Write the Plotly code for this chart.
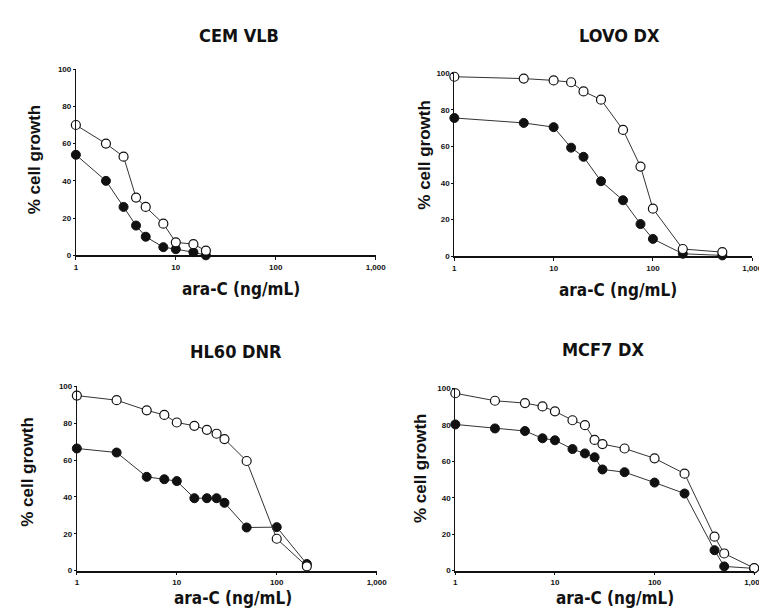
import plotly.graph_objects as go

W, H = 767, 608

# ---------------- data ----------------
cem_x_open = [1, 2, 3, 4, 5, 7.5, 10, 15, 20]
cem_y_open = [70, 60, 53, 31, 26, 17, 7, 6, 2.5]
cem_x_fill = [1, 2, 3, 4, 5, 7.5, 10, 15, 20]
cem_y_fill = [54, 40, 26, 16, 10, 4.4, 3.3, 1.7, 0]

lovo_x_open = [1, 5, 10, 15, 20, 30, 50, 75, 100, 200, 500]
lovo_y_open = [98, 97, 96, 95, 90, 85.5, 69, 49, 26, 4, 2.3]
lovo_x_fill = [1, 5, 10, 15, 20, 30, 50, 75, 100, 200, 500]
lovo_y_fill = [75.5, 72.8, 70.5, 59.3, 54.3, 41, 30.6, 17.6, 9.5, 1.4, 0.5]

hl60_x_open = [1, 2.5, 5, 7.5, 10, 15, 20, 25, 30, 50, 100, 200]
hl60_y_open = [95, 92.5, 87, 84.5, 80.4, 78.6, 76.4, 74.3, 71.4, 59.5, 17.3, 2.3]
hl60_x_fill = [1, 2.5, 5, 7.5, 10, 15, 20, 25, 30, 50, 100, 200]
hl60_y_fill = [66.3, 64.1, 50.9, 49.6, 48.6, 39.3, 39.3, 39.3, 36.8, 23.4, 23.6, 3.6]

mcf7_x_open = [1, 2.5, 5, 7.5, 10, 15, 20, 25, 30, 50, 100, 200, 400, 500, 1000]
mcf7_y_open = [97.3, 93.2, 91.9, 90.1, 87.4, 82.5, 79.8, 71.7, 69.4, 67, 61.6, 53.2, 18.6, 9.4, 1.4]
mcf7_x_fill = [1, 2.5, 5, 7.5, 10, 15, 20, 25, 30, 50, 100, 200, 400, 500, 1000]
mcf7_y_fill = [80.2, 78, 76.6, 72.6, 71.5, 66.7, 64.3, 62.2, 55.5, 54, 48.3, 42.3, 11.2, 2.3, 1.2]

titles = ["CEM VLB", "LOVO DX", "HL60 DNR", "MCF7 DX"]
x_tickvals = [1, 10, 100, 1000]
x_ticktext = ["1", "10", "100", "1,000"]
y_tickvals = [0, 20, 40, 60, 80, 100]
x_label = "ara-C (ng/mL)"
y_label = "% cell growth"

panels = [
    (cem_x_open, cem_y_open, cem_x_fill, cem_y_fill),
    (lovo_x_open, lovo_y_open, lovo_x_fill, lovo_y_fill),
    (hl60_x_open, hl60_y_open, hl60_x_fill, hl60_y_fill),
    (mcf7_x_open, mcf7_y_open, mcf7_x_fill, mcf7_y_fill),
]

# ---------------- layout geometry (pixels) ----------------
boxes = [(67, 372, 247, 58), (452, 755, 248, 62), (68, 373, 567, 380), (453, 757, 567, 382)]
title_pos = [(233, 24), (620, 24), (230, 345), (603, 343)]
xlab_pos = [(235, 281), (618, 282), (227, 595), (615, 595)]
ylab_pos = [(25, 150), (422, 145), (17, 467), (417, 463)]

fx = lambda p: p / W
fy = lambda p: 1 - p / H

fig = go.Figure()
cond = "DejaVu Sans Condensed, Liberation Sans Narrow, Arial Narrow, sans-serif"
tickfont = dict(family="Liberation Sans, Arial", size=8, color="#111", weight="bold")

layout = dict(width=W, height=H, margin=dict(l=0, r=0, t=0, b=0),
              paper_bgcolor="white", plot_bgcolor="white", showlegend=False)
annotations = []

for i, (xo, yo, xf, yf) in enumerate(panels):
    n = "" if i == 0 else str(i + 1)
    xa, ya = "x" + n, "y" + n
    fig.add_trace(go.Scatter(x=xf, y=yf, xaxis=xa, yaxis=ya, mode="lines+markers",
                             line=dict(color="#333", width=1),
                             marker=dict(symbol="circle", size=9, color="#111",
                                         line=dict(color="#111", width=1)),
                             cliponaxis=False))
    fig.add_trace(go.Scatter(x=xo, y=yo, xaxis=xa, yaxis=ya, mode="lines+markers",
                             line=dict(color="#333", width=1),
                             marker=dict(symbol="circle", size=9, color="white",
                                         line=dict(color="#111", width=1.2)),
                             cliponaxis=False))
    x0, x1, yb, yt = boxes[i]
    layout["xaxis" + n] = dict(type="log", range=[0, 3.0], domain=[fx(x0), fx(x1)],
                               anchor=ya, tickvals=x_tickvals, ticktext=x_ticktext,
                               showline=True, linecolor="#111", linewidth=1.5,
                               ticks="outside", ticklen=3, tickcolor="#111",
                               showgrid=False, zeroline=False, tickfont=tickfont)
    layout["yaxis" + n] = dict(range=[0, 100], domain=[fy(yb), fy(yt)],
                               anchor=xa, tickvals=y_tickvals,
                               showline=True, linecolor="#111", linewidth=1,
                               ticks="outside", ticklen=2, tickcolor="#111",
                               showgrid=False, zeroline=False, tickfont=tickfont)
    tx, ty = title_pos[i]
    annotations.append(dict(text=titles[i], x=fx(tx), y=fy(ty), xref="paper", yref="paper",
                            showarrow=False, xanchor="center", yanchor="middle",
                            font=dict(family=cond, size=18, color="#111", weight="bold")))
    lx, ly = xlab_pos[i]
    annotations.append(dict(text=x_label, x=fx(lx), y=fy(ly), xref="paper", yref="paper",
                            showarrow=False, xanchor="center", yanchor="middle",
                            font=dict(family=cond, size=17, color="#111", weight="bold")))
    vx, vy = ylab_pos[i]
    annotations.append(dict(text=y_label, x=fx(vx), y=fy(vy), xref="paper", yref="paper",
                            showarrow=False, xanchor="center", yanchor="middle", textangle=-90,
                            font=dict(family="Liberation Sans, Arial", size=17, color="#111",
                                      weight="bold")))

layout["annotations"] = annotations
fig.update_layout(**layout)
fig.write_html("out.html")
